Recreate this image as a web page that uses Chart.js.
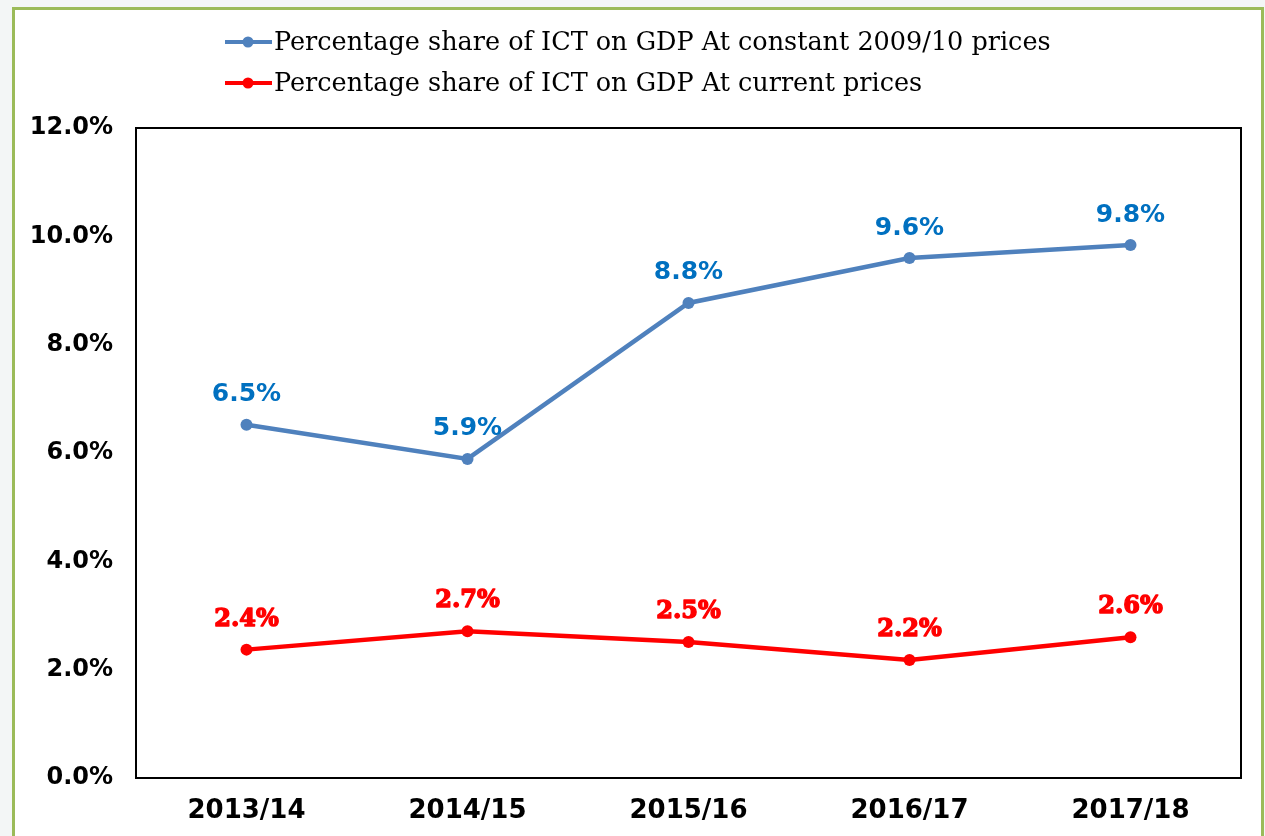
<!DOCTYPE html>
<html>
<head>
<meta charset="utf-8">
<script src="https://cdn.jsdelivr.net/npm/chart.js@4.4.1/dist/chart.umd.min.js"></script>
<style>
  html, body { margin: 0; padding: 0; background: #f3f6f6; }
  #wrap { position: absolute; left: 0; top: 0; width: 1265px; height: 836px; }
  canvas { display: block; }
</style>
</head>
<body>
<div id="wrap"><canvas id="c" width="1265" height="836"></canvas></div>
<script>
const categories = ['2013/14', '2014/15', '2015/16', '2016/17', '2017/18'];
const constantPrices = [6.52, 5.89, 8.77, 9.60, 9.84];
const currentPrices = [2.37, 2.71, 2.51, 2.18, 2.60];
const seriesNames = [
  'Percentage share of ICT on GDP At constant 2009/10 prices',
  'Percentage share of ICT on GDP At current prices'
];
const yTicks = [0, 2, 4, 6, 8, 10, 12];

const BLUE = '#4F81BD', BLUE_LABEL = '#0070C0', RED = '#FF0000';

const framePlugin = {
  id: 'frame',
  beforeDraw(chart) {
    const ctx = chart.ctx;
    ctx.save();
    ctx.fillStyle = '#ffffff';
    ctx.fillRect(13, 8, 1249, 840);
    ctx.strokeStyle = '#9BBB59';
    ctx.lineWidth = 3;
    ctx.beginPath();
    ctx.moveTo(13.5, 840);
    ctx.lineTo(13.5, 8.5);
    ctx.lineTo(1262.5, 8.5);
    ctx.lineTo(1262.5, 840);
    ctx.stroke();
    ctx.restore();
  },
  afterDraw(chart) {
    const ctx = chart.ctx, a = chart.chartArea;
    ctx.save();
    ctx.strokeStyle = '#000';
    ctx.lineWidth = 2;
    ctx.strokeRect(a.left, a.top, a.right - a.left, a.bottom - a.top);
    ctx.restore();
  }
};

const legendPlugin = {
  id: 'customLegend',
  afterDraw(chart) {
    const ctx = chart.ctx;
    ctx.save();
    chart.data.datasets.forEach((ds, i) => {
      const y = 42 + i * 41;
      ctx.strokeStyle = ds.borderColor;
      ctx.lineWidth = 4;
      ctx.beginPath();
      ctx.moveTo(225, y);
      ctx.lineTo(272, y);
      ctx.stroke();
      ctx.fillStyle = ds.borderColor;
      ctx.beginPath();
      ctx.arc(248, y, 5.5, 0, Math.PI * 2);
      ctx.fill();
      ctx.fillStyle = '#000';
      ctx.font = '25.5px "DejaVu Serif"';
      ctx.textAlign = 'left';
      ctx.textBaseline = 'middle';
      ctx.fillText(ds.label, 274, y + 1);
    });
    ctx.restore();
  }
};

const labelPlugin = {
  id: 'pointLabels',
  afterDatasetsDraw(chart) {
    const ctx = chart.ctx;
    ctx.save();
    chart.data.datasets.forEach((ds, i) => {
      const meta = chart.getDatasetMeta(i);
      ctx.fillStyle = ds.labelColor;
      ctx.strokeStyle = ds.labelColor;
      ctx.lineWidth = ds.labelStroke;
      ctx.lineJoin = 'round';
      ctx.font = ds.labelFont;
      ctx.textAlign = 'center';
      ctx.textBaseline = 'middle';
      meta.data.forEach((pt, j) => {
        const t = ds.data[j].toFixed(1) + '%';
        ctx.fillText(t, pt.x, pt.y - 30);
        if (ds.labelStroke > 0) ctx.strokeText(t, pt.x, pt.y - 30);
      });
    });
    ctx.restore();
  }
};

new Chart(document.getElementById('c'), {
  type: 'line',
  data: {
    labels: categories,
    datasets: [
      {
        label: seriesNames[0],
        data: constantPrices,
        borderColor: BLUE,
        backgroundColor: BLUE,
        borderWidth: 4.5,
        pointRadius: 6,
        pointBackgroundColor: BLUE,
        pointBorderWidth: 0,
        tension: 0,
        labelColor: BLUE_LABEL,
        labelStroke: 0,
        labelFont: 'bold 25px "DejaVu Sans"'
      },
      {
        label: seriesNames[1],
        data: currentPrices,
        borderColor: RED,
        backgroundColor: RED,
        borderWidth: 4.5,
        pointRadius: 6,
        pointBackgroundColor: RED,
        pointBorderWidth: 0,
        tension: 0,
        labelColor: RED,
        labelStroke: 1.4,
        labelFont: 'bold 24px "DejaVu Serif"'
      }
    ]
  },
  options: {
    responsive: false,
    animation: false,
    events: [],
    layout: { padding: { top: 128, right: 24, left: 0, bottom: 0 } },
    plugins: { legend: { display: false }, tooltip: { enabled: false } },
    scales: {
      x: {
        offset: true,
        grid: { display: false, drawTicks: false },
        border: { display: false },
        ticks: {
          color: '#000',
          font: { family: 'DejaVu Sans', weight: 'bold', size: 26 },
          padding: 18
        },
        afterFit(scale) { scale.height = 58; }
      },
      y: {
        min: 0,
        max: 12,
        grid: { display: false, drawTicks: false },
        border: { display: false },
        afterBuildTicks(scale) { scale.ticks = yTicks.map(v => ({ value: v })); },
        ticks: {
          color: '#000',
          font: { family: 'DejaVu Sans', weight: 'bold', size: 24 },
          padding: 23,
          callback: v => v.toFixed(1) + '%'
        },
        afterFit(scale) { scale.width = 136; }
      }
    }
  },
  plugins: [framePlugin, legendPlugin, labelPlugin]
});
</script>
</body>
</html>
